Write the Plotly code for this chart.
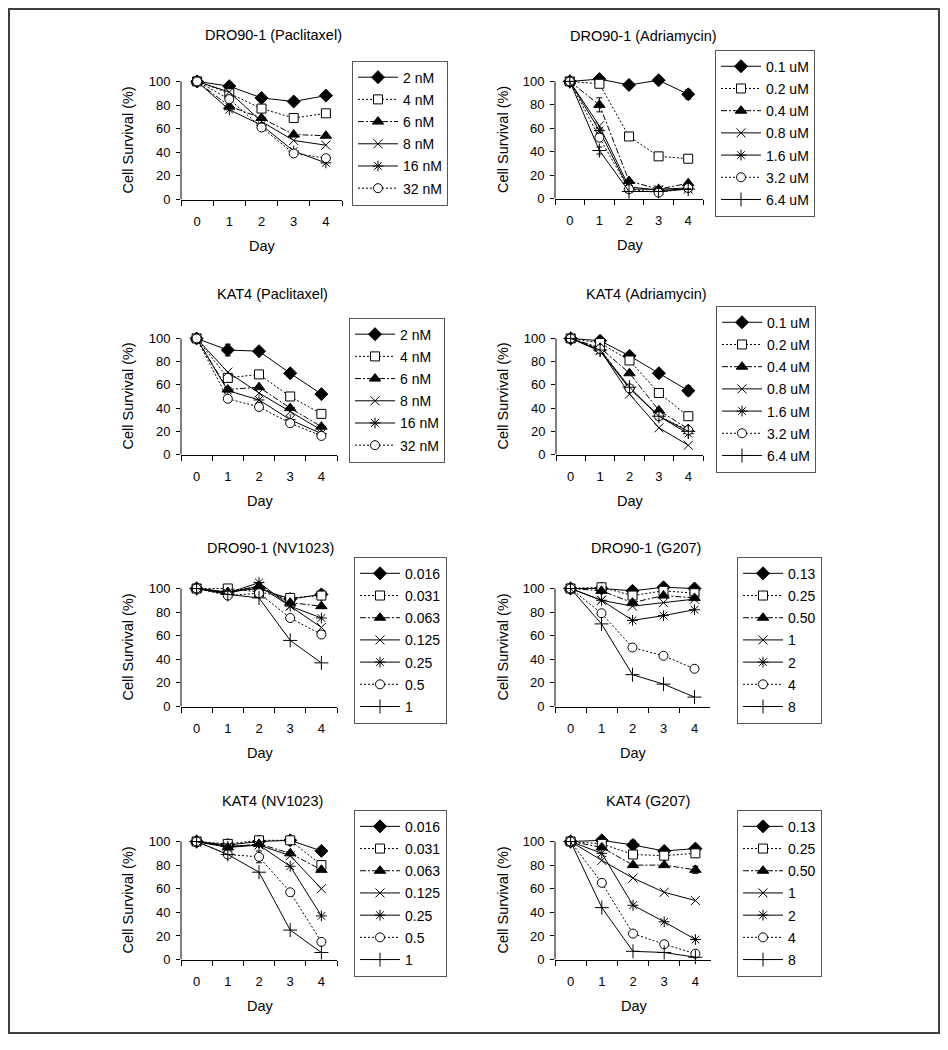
import plotly.graph_objects as go

# x categories
days = ["0", "1", "2", "3", "4"]

# legend labels
conc_pac = ["2 nM", "4 nM", "6 nM", "8 nM", "16 nM", "32 nM"]
conc_adr = ["0.1 uM", "0.2 uM", "0.4 uM", "0.8 uM", "1.6 uM", "3.2 uM", "6.4 uM"]
conc_nv = ["0.016", "0.031", "0.063", "0.125", "0.25", "0.5", "1"]
conc_g207 = ["0.13", "0.25", "0.50", "1", "2", "4", "8"]

# cell survival (%), one list per concentration
dro_pac = [[100, 96, 86, 83, 88],
           [100, 90, 77, 69, 73],
           [100, 79, 69, 55, 54],
           [100, 91, 66, 50, 46],
           [100, 76, 63, 41, 31],
           [100, 85, 61, 39, 35]]
dro_adr = [[100, 102, 97, 101, 89],
           [100, 98, 53, 36, 34],
           [100, 80, 15, 8, 13],
           [100, 62, 10, 7, 8],
           [100, 58, 8, 8, 9],
           [100, 52, 8, 5, 9],
           [100, 41, 6, 6, 8]]
kat_pac = [[100, 90, 89, 70, 52],
           [100, 66, 69, 50, 35],
           [100, 56, 58, 40, 24],
           [100, 71, 53, 37, 21],
           [100, 55, 47, 30, 18],
           [100, 48, 41, 27, 16]]
kat_adr = [[100, 98, 85, 70, 55],
           [100, 96, 81, 53, 33],
           [100, 92, 70, 38, 22],
           [100, 90, 52, 23, 8],
           [100, 89, 57, 33, 18],
           [100, 91, 57, 33, 21],
           [100, 90, 58, 33, 20]]
dro_nv = [[100, 97, 100, 91, 95],
          [100, 100, 97, 92, 94],
          [100, 97, 102, 88, 85],
          [100, 96, 102, 85, 67],
          [100, 96, 105, 85, 75],
          [100, 94, 96, 75, 61],
          [100, 95, 92, 56, 37]]
dro_g207 = [[100, 100, 98, 101, 100],
            [100, 101, 94, 98, 96],
            [100, 98, 88, 94, 92],
            [100, 90, 85, 88, 91],
            [100, 90, 73, 77, 82],
            [100, 79, 50, 43, 32],
            [100, 70, 27, 19, 8]]
kat_nv = [[100, 97, 100, 101, 92],
          [100, 98, 101, 101, 80],
          [100, 95, 98, 90, 76],
          [100, 95, 97, 88, 60],
          [100, 96, 97, 79, 37],
          [100, 89, 87, 57, 15],
          [100, 89, 74, 25, 6]]
kat_g207 = [[100, 101, 97, 92, 94],
            [100, 98, 89, 88, 90],
            [100, 95, 80, 80, 76],
            [100, 84, 69, 57, 50],
            [100, 90, 46, 32, 17],
            [100, 65, 22, 13, 5],
            [100, 44, 7, 6, 2]]

# visible error bars (panel index, series index) -> sd
errors = {
    (1, 0): [0, 0, 0, 0, 4],
    (1, 2): [0, 6, 0, 0, 0],
    (1, 6): [0, 3, 0, 0, 0],
    (2, 0): [0, 5, 0, 0, 0],
    (3, 0): [0, 0, 0, 0, 4],
    (6, 0): [0, 0, 0, 0, 3],
    (6, 5): [0, 0, 5, 0, 0],
    (7, 0): [0, 0, 4, 0, 0],
    (7, 2): [0, 0, 0, 0, 3],
}

titles = ["DRO90-1 (Paclitaxel)", "DRO90-1 (Adriamycin)",
          "KAT4 (Paclitaxel)", "KAT4 (Adriamycin)",
          "DRO90-1 (NV1023)", "DRO90-1 (G207)",
          "KAT4 (NV1023)", "KAT4 (G207)"]
panel_data = [dro_pac, dro_adr, kat_pac, kat_adr, dro_nv, dro_g207, kat_nv, kat_g207]
panel_names = [conc_pac, conc_adr, conc_pac, conc_adr, conc_nv, conc_g207, conc_nv, conc_g207]

# page body has an 8px margin, keep the whole page inside the window
OFF = 8
W, H = 948 - 2 * OFF, 1050 - 2 * OFF
FONT = "Liberation Sans, Arial, sans-serif"
YTOP = 110  # headroom so lines above 100 are not clipped

# plot boxes in screen pixels: left, right, y of 100, y of 0
boxes = [(181, 342, 82, 201), (555, 703, 82, 200),
         (181, 337, 341, 458), (556, 703, 341, 458),
         (181, 337, 593, 712), (555, 710, 593, 712),
         (181, 337, 848, 967), (555, 711, 848, 967)]
legend_pos = [(352, 61), (715, 50), (349, 320), (716, 308),
              (354, 561), (737, 561), (354, 816), (737, 816)]
title_pos = [(273, 35), (643, 36), (272, 296), (646, 296),
             (270, 552), (646, 552), (272, 807), (648, 807)]

# marker/line style of each concentration rank
styles = [
    dict(symbol="diamond", size=10, color="black", dash="solid"),
    dict(symbol="square", size=9, color="white", dash="2px,2px"),
    dict(symbol="triangle-up", size=10, color="black", dash="6px,2px,2px,2px"),
    dict(symbol="x-thin-open", size=9, color="black", dash="solid"),
    dict(symbol="asterisk-open", size=9, color="black", dash="solid"),
    dict(symbol="circle", size=9, color="white", dash="2px,2px"),
    dict(symbol="cross-thin-open", size=10, color="black", dash="solid"),
]


def px_x(v):
    return (v - OFF) / W


def px_y(v):
    return 1 - (v - OFF) / H


fig = go.Figure()
layout = {}
annotations = []
shapes = []

for p in range(8):
    n = p + 1
    xa = "x" if n == 1 else "x%d" % n
    ya = "y" if n == 1 else "y%d" % n
    lg = "legend" if n == 1 else "legend%d" % n
    for s, (vals, name) in enumerate(zip(panel_data[p], panel_names[p])):
        st = styles[s]
        err = errors.get((p, s))
        fig.add_trace(go.Scatter(
            x=days, y=vals, name=name, mode="lines+markers",
            xaxis=xa, yaxis=ya, legend=lg, legendgroup="p%d_%d" % (n, s),
            cliponaxis=False,
            line=dict(color="black", width=1, dash=st["dash"]),
            marker=dict(symbol=st["symbol"], size=st["size"], color=st["color"],
                        line=dict(color="black", width=1)),
            error_y=dict(type="data", array=err, visible=err is not None,
                         color="black", thickness=1, width=3),
        ))

    l, r, t, b = boxes[p]
    top = b - (b - t) * YTOP / 100
    layout["xaxis" if n == 1 else "xaxis%d" % n] = dict(
        domain=[px_x(l), px_x(r)], anchor=ya, type="category",
        categoryarray=days, range=[-0.5, 4.5], tickson="boundaries",
        ticks="outside", ticklen=5, tickcolor="black", showline=True,
        linecolor="black", linewidth=1, showgrid=False, zeroline=False,
        ticklabelstandoff=10,
        tickfont=dict(size=13, color="black", family=FONT))
    layout["yaxis" if n == 1 else "yaxis%d" % n] = dict(
        domain=[px_y(b), px_y(top)], anchor=xa, range=[0, YTOP],
        tickvals=[0, 20, 40, 60, 80, 100],
        ticks="outside", ticklen=4, tickcolor="black", showline=False,
        showgrid=False, zeroline=False, ticklabelstandoff=3,
        tickfont=dict(size=13, color="black", family=FONT))
    # y axis line only up to 100
    shapes.append(dict(type="line", xref=xa + " domain", yref=ya,
                       x0=0, x1=0, y0=0, y1=100,
                       line=dict(color="black", width=1)))
    lx, ly = legend_pos[p]
    layout[lg] = dict(
        x=px_x(lx), y=px_y(ly), xanchor="left", yanchor="top",
        bordercolor="#555555", borderwidth=1, bgcolor="white",
        itemwidth=40, tracegroupgap=1,
        font=dict(size=14, color="black", family=FONT))

    tx, ty = title_pos[p]
    annotations.append(dict(text=titles[p], x=px_x(tx), y=px_y(ty), xref="paper",
                            yref="paper", xanchor="center", yanchor="middle",
                            showarrow=False,
                            font=dict(size=14.5, color="black", family=FONT)))
    annotations.append(dict(text="Day", x=px_x((l + r) / 2 + 1), y=px_y(b + 47),
                            xref="paper", yref="paper", xanchor="center",
                            yanchor="middle", showarrow=False,
                            font=dict(size=14.5, color="black", family=FONT)))
    annotations.append(dict(text="Cell Survival (%)", x=px_x(128 if l < 300 else 503),
                            y=px_y((t + b) / 2), xref="paper", yref="paper",
                            xanchor="center", yanchor="middle",
                            textangle=-90, showarrow=False,
                            font=dict(size=14.5, color="black", family=FONT)))

# outer frame round the whole figure
shapes.append(dict(type="rect", xref="paper", yref="paper",
                   x0=px_x(9), x1=px_x(939), y0=px_y(1041), y1=px_y(9),
                   line=dict(color="#404040", width=2)))

fig.update_layout(**layout)
fig.update_layout(
    width=W, height=H, margin=dict(l=0, r=0, t=0, b=0),
    plot_bgcolor="white", paper_bgcolor="white",
    annotations=annotations, shapes=shapes,
)

fig.write_html("out.html")
